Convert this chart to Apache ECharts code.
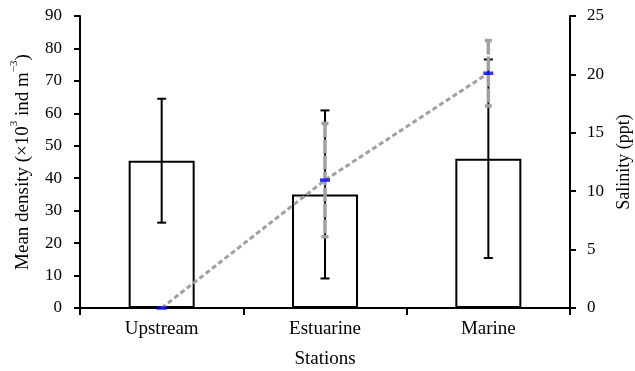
<!DOCTYPE html>
<html>
<head>
<meta charset="utf-8">
<script src="https://cdn.jsdelivr.net/npm/echarts@6/dist/echarts.min.js"></script>
<style>html,body{margin:0;padding:0;background:#fff}#c{width:635px;height:371px}</style>
</head>
<body>
<div id="c"></div>
<script>
const categories = ['Upstream', 'Estuarine', 'Marine'];
const densityMean = [45.4, 35.0, 46.0];
const densityErr = [19.1, 25.9, 30.6];
const salinityMean = [0, 10.95, 20.1];
const salinityErr = [0, 4.85, 2.8];
const densityAxis = { min: 0, max: 90, interval: 10 };
const salinityAxis = { min: 0, max: 25, interval: 5 };

const FONT = 'Liberation Serif';
const chart = echarts.init(document.getElementById('c'), null, { renderer: 'canvas' });

function errData(mean, err) {
  return categories.map((c, i) => [i, mean[i] - err[i], mean[i] + err[i]]);
}
function errRender(color, width, capHalf, dash) {
  return function (params, api) {
    const i = api.value(0);
    const lo = api.coord([i, api.value(1)]);
    const hi = api.coord([i, api.value(2)]);
    if (Math.abs(lo[1] - hi[1]) < 0.5) return { type: 'group', children: [] };
    const children = [];
    if (dash) {
      let y = hi[1];
      while (y < lo[1]) {
        const y2 = Math.min(y + dash[0], lo[1]);
        children.push({ type: 'line', shape: { x1: hi[0], y1: y, x2: hi[0], y2: y2 }, style: { stroke: color, lineWidth: width } });
        y = y2 + dash[1];
      }
    } else {
      children.push({ type: 'line', shape: { x1: lo[0], y1: lo[1], x2: hi[0], y2: hi[1] }, style: { stroke: color, lineWidth: width } });
    }
    children.push({ type: 'line', shape: { x1: hi[0] - capHalf, y1: hi[1], x2: hi[0] + capHalf, y2: hi[1] }, style: { stroke: color, lineWidth: width } });
    children.push({ type: 'line', shape: { x1: lo[0] - capHalf, y1: lo[1], x2: lo[0] + capHalf, y2: lo[1] }, style: { stroke: color, lineWidth: width } });
    return { type: 'group', children: children };
  };
}

const axisCommon = {
  axisLine: { show: true, lineStyle: { color: '#000', width: 2 } },
  axisTick: { show: true, inside: false, length: 6, lineStyle: { color: '#000', width: 2 } },
  splitLine: { show: false },
  axisLabel: { color: '#000', fontFamily: FONT, fontSize: 17 },
  nameTextStyle: { color: '#000', fontFamily: FONT, fontSize: 18 }
};

chart.setOption({
  animation: false,
  backgroundColor: '#fff',
  grid: { left: 80, right: 65, top: 16, bottom: 63, containLabel: false, outerBoundsMode: 'none' },
  xAxis: {
    type: 'category',
    data: categories,
    boundaryGap: true,
    axisLine: { show: true, lineStyle: { color: '#000', width: 2 } },
    axisTick: { show: true, inside: false, length: 7, interval: 0, alignWithLabel: false, lineStyle: { color: '#000', width: 2 } },
    axisLabel: { color: '#000', fontFamily: FONT, fontSize: 19, margin: 12 },
    name: 'Stations',
    nameLocation: 'middle',
    nameGap: 42,
    nameTextStyle: { color: '#000', fontFamily: FONT, fontSize: 19 }
  },
  yAxis: [
    Object.assign({}, axisCommon, {
      type: 'value', position: 'left',
      min: densityAxis.min, max: densityAxis.max, interval: densityAxis.interval,
      axisLabel: Object.assign({}, axisCommon.axisLabel, { margin: 18 }),
      name: '{a|Mean density (×10}{s|3}{a| ind m}{s|−3}{a|)}',
      nameLocation: 'middle', nameGap: 47, nameRotate: 90,
      nameTextStyle: {
        color: '#000', fontFamily: FONT, fontSize: 19,
        rich: {
          a: { fontFamily: FONT, fontSize: 19, color: '#000', lineHeight: 24, verticalAlign: 'bottom' },
          s: { fontFamily: FONT, fontSize: 11, color: '#000', lineHeight: 24, verticalAlign: 'top' }
        }
      }
    }),
    Object.assign({}, axisCommon, {
      type: 'value', position: 'right',
      min: salinityAxis.min, max: salinityAxis.max, interval: salinityAxis.interval,
      axisLabel: Object.assign({}, axisCommon.axisLabel, { margin: 17 }),
      name: 'Salinity (ppt)',
      nameLocation: 'middle', nameGap: 43, nameRotate: 90
    })
  ],
  series: [
    {
      type: 'bar', yAxisIndex: 0, data: densityMean, barWidth: 66, z: 2,
      itemStyle: { color: '#fff', borderColor: '#000', borderWidth: 2 }
    },
    {
      type: 'custom', yAxisIndex: 0, z: 3,
      data: errData(densityMean, densityErr),
      renderItem: errRender('#000', 2, 4.5)
    },
    {
      type: 'line', yAxisIndex: 1, data: salinityMean, z: 4,
      symbol: 'none',
      lineStyle: { color: '#a0a0a0', width: 3, type: [5, 3] }
    },
    {
      type: 'custom', yAxisIndex: 1, z: 5,
      data: errData(salinityMean, salinityErr),
      renderItem: errRender('#a0a0a0', 3.5, 3.5, [14, 2])
    },
    {
      type: 'scatter', yAxisIndex: 1, data: salinityMean, z: 6,
      symbol: 'rect', symbolSize: [10, 3.5],
      itemStyle: { color: '#0000ff' }
    }
  ]
});
</script>
</body>
</html>
